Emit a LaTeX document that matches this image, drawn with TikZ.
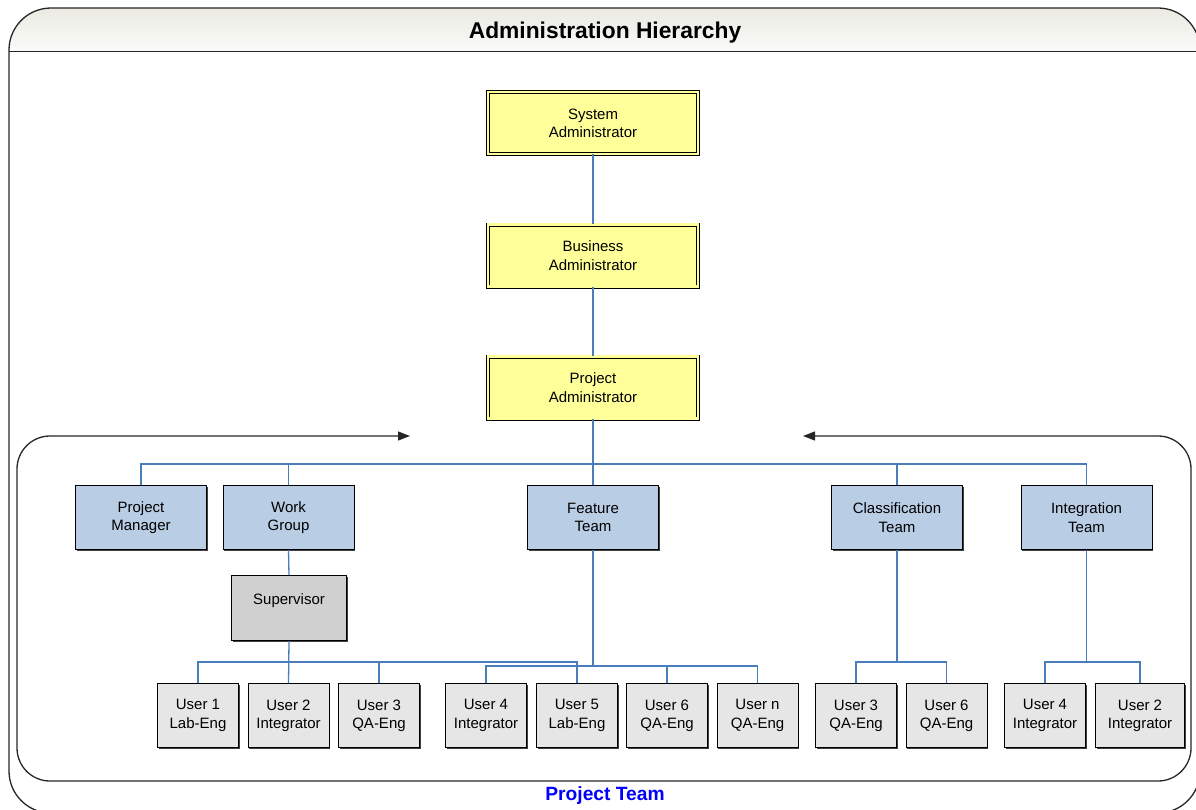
\documentclass[tikz,border=0pt]{standalone}
\usepackage{fontspec}
\setmainfont{Liberation Sans}
\usetikzlibrary{arrows.meta,shadows}

\definecolor{connector}{RGB}{74,126,187}
\definecolor{adminfill}{RGB}{255,255,153}
\definecolor{teamfill}{RGB}{185,205,229}
\definecolor{supfill}{RGB}{208,208,208}
\definecolor{userfill}{RGB}{230,230,230}
\definecolor{bartop}{RGB}{234,234,226}
\definecolor{barbottom}{RGB}{251,251,249}

\begin{document}
\begin{tikzpicture}[x=1pt,y=-1pt,
  every node/.style={font=\fontsize{15}{18.3}\selectfont, align=center, inner sep=0pt},
  shadowed/.style={general shadow={shadow xshift=1pt,shadow yshift=-1pt,fill=black!75}},
  adminbox/.style={draw=black, line width=0.9pt, double=adminfill, double distance=2.2pt,
    fill=adminfill, minimum width=210pt, minimum height=62pt},
  teambox/.style={shadowed, draw=black, line width=1pt, fill=teamfill,
    minimum width=131pt, minimum height=64pt},
  supbox/.style={shadowed, draw=black, line width=1pt, fill=supfill,
    minimum width=115pt, minimum height=65pt},
  userbox/.style={shadowed, draw=black, line width=1pt, fill=userfill,
    minimum width=81pt, minimum height=64pt},
  conn/.style={draw=connector, line width=1.3pt},
  frame/.style={draw=black!85, line width=1.3pt},
  flowtip/.tip={Triangle[length=12pt,width=9pt]}
]
% page area
\clip (0,0) rectangle (1196,809);

% outer panel with shaded title bar
\begin{scope}
  \clip[rounded corners=42pt] (9,8) rectangle (1200,813);
  \shade[top color=bartop, bottom color=barbottom] (9,8) rectangle (1200,51.5);
\end{scope}
\draw[frame, rounded corners=42pt] (9,8) rectangle (1200,813);
\draw[frame] (9,51.5) -- (1200,51.5);
\node[anchor=base, font=\bfseries\fontsize{22.8}{26}\selectfont] (title) at (605,38.3) {Administration Hierarchy};

% project team frame, open at the top with arrows
\draw[frame, rounded corners=33pt, flowtip-flowtip] (803,436) -- (1191,436) -- (1191,781) -- (17,781) -- (17,436) -- (410,436);
\node[anchor=base, font=\bfseries\fontsize{19.2}{22}\selectfont, text=blue] (ptlabel) at (605,800) {Project Team};

% administrators
\node[adminbox] (sys) at (593,123) {System\\Administrator};
\node[adminbox] (bus) at (593,255.5) {Business\\Administrator};
\node[adminbox] (proj) at (593,387.5) {Project\\Administrator};

% teams
\node[teambox] (pm) at (141,517.5) {Project\\Manager};
\node[teambox] (wg) at (288.5,517.5) {Work\\Group};
\node[teambox] (ft) at (593,517.5) {Feature\\Team};
\node[teambox] (ct) at (897,517.5) {Classification\\Team};
\node[teambox] (it) at (1086.5,517.5) {Integration\\Team};

\node[supbox] (sup) at (289,608) {Supervisor\\\phantom{S}};

% users
\node[userbox] (u1) at (198,715.5) {User 1\\Lab-Eng};
\node[userbox] (u2) at (288.5,715.5) {User 2\\Integrator};
\node[userbox] (u3) at (379,715.5) {User 3\\QA-Eng};
\node[userbox] (u4) at (486,715.5) {User 4\\Integrator};
\node[userbox] (u5) at (577,715.5) {User 5\\Lab-Eng};
\node[userbox] (u6) at (667,715.5) {User 6\\QA-Eng};
\node[userbox] (un) at (757.5,715.5) {User n\\QA-Eng};
\node[userbox] (c3) at (856,715.5) {User 3\\QA-Eng};
\node[userbox] (c6) at (946.5,715.5) {User 6\\QA-Eng};
\node[userbox] (i4) at (1045,715.5) {User 4\\Integrator};
\node[userbox, minimum width=89pt] (i2) at (1140,715.5) {User 2\\Integrator};

% bus levels
\coordinate (topbus) at (0,464);
\coordinate (subbus) at (0,662);
\coordinate (fbus) at (0,666);

% connectors
\draw[conn] (sys.south) -- (bus.north);
\draw[conn] (bus.south) -- (proj.north);
\draw[conn] (proj.south) -- (ft.north);
\draw[conn] (pm.north) -- (pm.north |- topbus) -| (it.north);
\draw[conn] (wg.north) -- (wg.north |- topbus);
\draw[conn] (ct.north) -- (ct.north |- topbus);

\draw[conn] (wg.south) -- (sup.north);
\draw[conn] (sup.south) -- (u2.north);
\draw[conn] (u1.north) -- (u1.north |- subbus) -| (u5.north);
\draw[conn] (u3.north) -- (u3.north |- subbus);

\draw[conn] (ft.south) -- (ft.south |- fbus);
\draw[conn] (u4.north) -- (u4.north |- fbus) -| (un.north);
\draw[conn] (u6.north) -- (u6.north |- fbus);

\draw[conn] (ct.south) -- (ct.south |- subbus);
\draw[conn] (c3.north) -- (c3.north |- subbus) -| (c6.north);

\draw[conn] (it.south) -- (it.south |- subbus);
\draw[conn] (i4.north) -- (i4.north |- subbus) -| (i2.north);
\end{tikzpicture}
\end{document}
